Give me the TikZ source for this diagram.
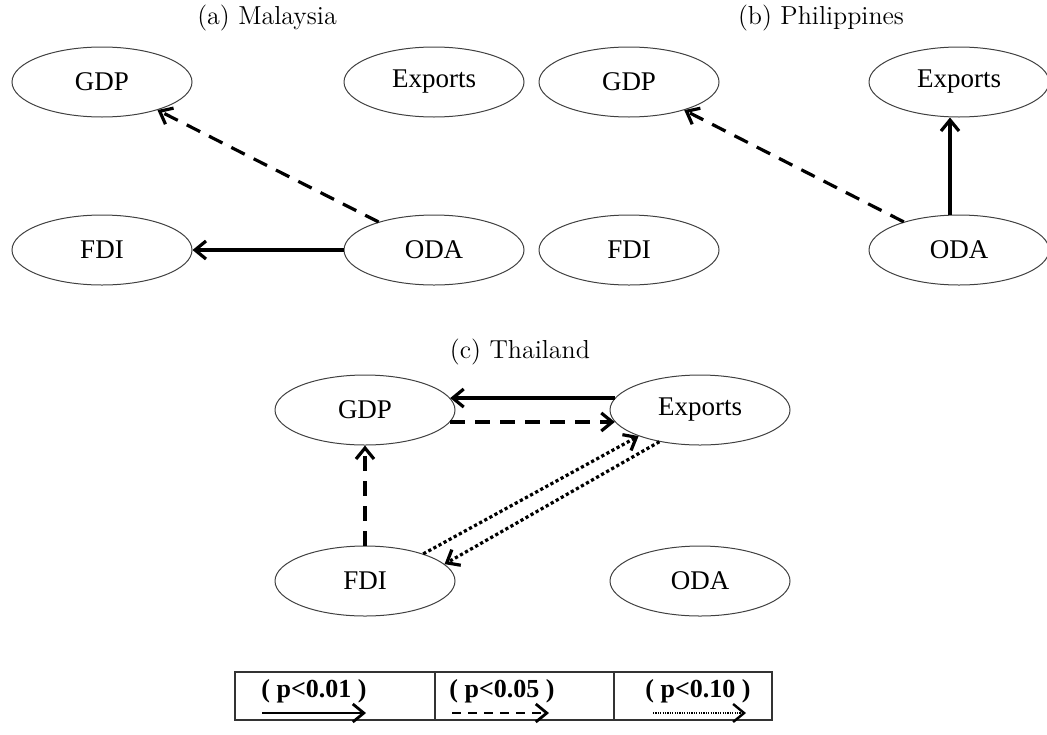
\documentclass[tikz,border=0pt]{standalone}
\usepackage{fontspec}
\newfontfamily\varfont{Liberation Serif}
\usetikzlibrary{shapes.geometric,arrows.meta}
\tikzset{
  var/.style={ellipse, draw=black!75, line width=0.5pt, minimum width=90pt,
    minimum height=35pt, inner sep=0pt, font=\varfont\fontsize{13.5}{15}\selectfont},
  ttl/.style={font=\fontsize{13}{15}\selectfont},
  keylbl/.style={font=\varfont\bfseries\fontsize{13}{15}\selectfont},
  sigA/.style={->, line width=1.6pt},
  sigB/.style={->, line width=1.6pt, dash pattern=on 7.5pt off 5pt},
  sigC/.style={->, line width=1.6pt, dash pattern=on 1.6pt off 1.3pt},
}
\begin{document}
\begin{tikzpicture}[x=0.5pt, y=-0.5pt, >={Straight Barb[length=5.5pt,width=9pt]}]
  \useasboundingbox (0,0) rectangle (1047,734);
  % (a)
  \node[ttl] (tA) at (267,18) {(a) Malaysia};
  \node[var] (gdpA) at (102,82) {GDP};
  \node[var] (expA) at (434,82) {Exports};
  \node[var] (fdiA) at (102,250) {FDI};
  \node[var] (odaA) at (434,250) {ODA};
  \draw[sigB] (odaA) -- (gdpA);
  \draw[sigA] (odaA) -- (fdiA);
  % (b)
  \node[ttl] (tB) at (821,18) {(b) Philippines};
  \node[var] (gdpB) at (629,82) {GDP};
  \node[var] (expB) at (959,82) {Exports};
  \node[var] (fdiB) at (629,250) {FDI};
  \node[var] (odaB) at (959,250) {ODA};
  \draw[sigB] (odaB) -- (gdpB);
  \draw[sigA] ([xshift=-4.5pt]odaB.north) -- ([xshift=-4.5pt]expB.south);
  % (c)
  \node[ttl] (tC) at (520,352) {(c) Thailand};
  \node[var] (gdpC) at (365,410) {GDP};
  \node[var] (expC) at (700,410) {Exports};
  \node[var] (fdiC) at (365,581) {FDI};
  \node[var] (odaC) at (700,581) {ODA};
  \draw[sigA] (expC.172) -- (gdpC.8);
  \draw[sigB] (gdpC.-8) -- (expC.188);
  \draw[sigB] (fdiC) -- (gdpC);
  \draw[sigC] (fdiC.25) -- (expC.203);
  \draw[sigC] (expC.218) -- (fdiC.12);
  % key
  \draw[line width=0.6pt, draw=black!80] (235,672) rectangle (772,720);
  \draw[line width=0.6pt, draw=black!80] (435,672) -- (435,720) (614,672) -- (614,720);
  \node[keylbl] (k1) at (314,691) {( p<0.01 )};
  \node[keylbl] (k2) at (502,691) {( p<0.05 )};
  \node[keylbl] (k3) at (698,691) {( p<0.10 )};
  \coordinate (k1a) at (262,713); \coordinate (k1b) at (366,713);
  \coordinate (k2a) at (452,713); \coordinate (k2b) at (549,713);
  \coordinate (k3a) at (653,713); \coordinate (k3b) at (746,713);
  \draw[->, line width=1.4pt] (k1a) -- (k1b);
  \draw[->, line width=1.4pt, dash pattern=on 4.5pt off 3.5pt] (k2a) -- (k2b);
  \draw[->, line width=1.2pt, dash pattern=on 0.6pt off 0.6pt] (k3a) -- (k3b);
\end{tikzpicture}
\end{document}
